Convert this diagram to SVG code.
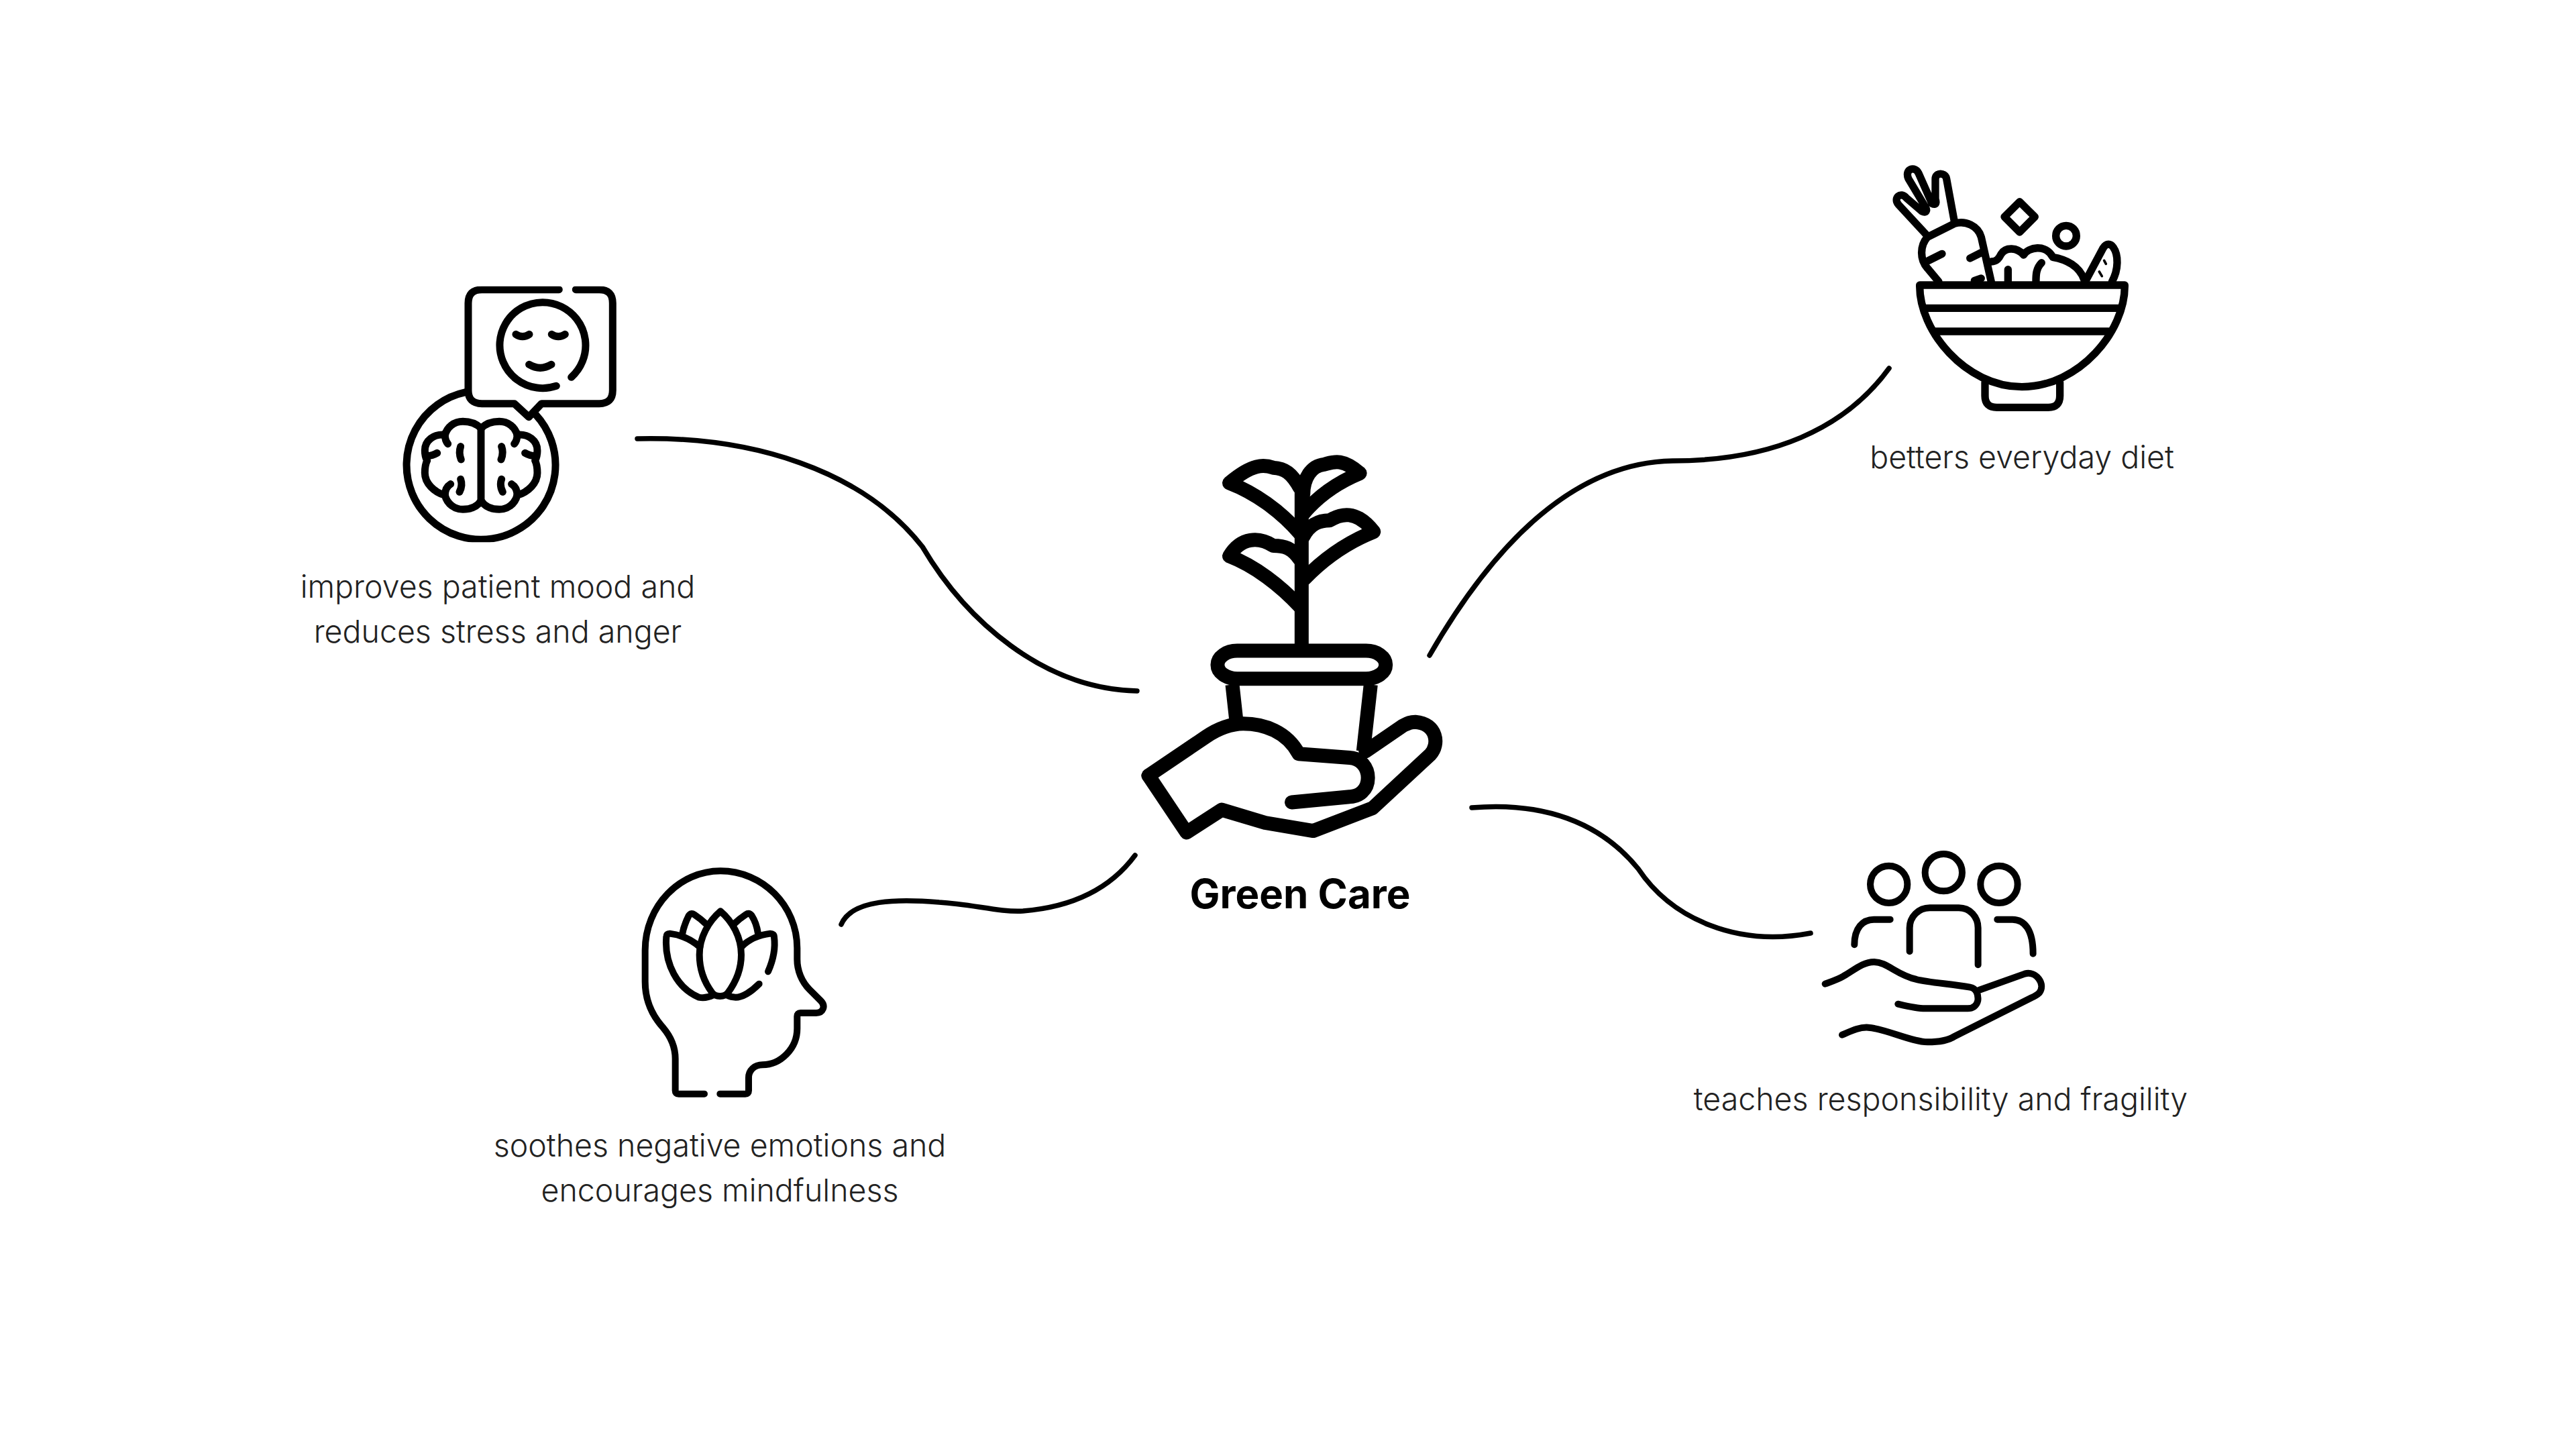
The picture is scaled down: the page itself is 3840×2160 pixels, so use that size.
<svg xmlns="http://www.w3.org/2000/svg" width="3840" height="2160" viewBox="0 0 3840 2160">
<style>
.i{fill:none;stroke:#000;stroke-linecap:round;stroke-linejoin:round}
.c{fill:none;stroke:#000;stroke-width:7.5;stroke-linecap:round}
.l{font-family:"Inter","Liberation Sans",sans-serif;font-weight:300;font-size:46.5px;fill:#222;text-anchor:middle}
.t{font-family:"Inter","Liberation Sans",sans-serif;font-weight:700;font-size:60px;fill:#000;text-anchor:middle}
.n{vector-effect:non-scaling-stroke}
</style>
<defs>
<clipPath id="bc"><rect x="0" y="80" width="1200" height="1145"/></clipPath>
<g id="half">
<path d="M441 715C415 690 385 685 360 685C320 685 290 710 280 745C230 740 190 770 190 815C190 835 195 850 200 860C190 880 190 900 190 915C190 960 230 1000 280 1015C290 1055 325 1078 360 1078C395 1078 425 1065 441 1040"/>
<path d="M280 745Q280 770 293 785M197 840Q225 838 245 826M350 797Q340 825 352 855M350 943Q360 970 345 1000M280 1015Q280 980 305 965"/>
</g>
</defs>
<rect width="3840" height="2160" fill="#fff"/>
<g id="connectors">
<path class="c" d="M950 654C1120 650 1285 700 1375 815C1440 925 1555 1027 1695 1030"/>
<path class="c" d="M2131 977C2210 840 2330 690 2493 687C2640 687 2750 640 2816 549"/>
<path class="c" d="M1254 1378C1270 1340 1340 1340 1400 1345C1450 1348 1490 1360 1525 1358C1600 1352 1655 1325 1692 1275"/>
<path class="c" d="M2194 1204C2300 1195 2385 1225 2442 1295C2492 1370 2590 1412 2699 1391"/>
</g>
<g id="node-center">
<g class="i" transform="translate(1650 640) scale(.3444 .4847)" stroke-width="21">
<path class="n" d="M850 200C850 150 885 112 940 108C975 102 1015 85 1095 135C1010 160 920 200 850 260"/>
<path class="n" d="M835 180C800 135 770 120 720 118C680 108 630 105 530 165C640 195 750 250 835 320"/>
<path class="n" d="M850 330C880 290 920 280 965 280C1010 260 1080 245 1155 315C1050 345 950 390 855 460"/>
<path class="n" d="M835 400C800 365 770 358 720 358C660 330 580 330 530 390C640 420 750 480 835 545"/>
<path class="n" d="M843 150V670" style="stroke-linecap:butt"/>
<rect class="n" x="479" y="681" width="728" height="86" rx="85" ry="43"/>
<path class="n" d="M543 785L560 895M1142 785L1110 990" style="stroke-linecap:butt"/>
<path class="n" d="M180 1065L430 945C480 920 540 905 590 905C680 905 780 930 830 998L1050 1010C1100 1012 1130 1040 1130 1072C1130 1110 1090 1130 1050 1130L800 1147"/>
<path class="n" d="M180 1065L345 1240L497 1170L685 1210L893 1235L1150 1165L1400 1000C1440 970 1430 905 1335 900C1310 900 1300 905 1280 912L1120 990"/>
</g>
<text class="t" x="1938" y="1354">Green Care</text>
</g>
<g id="node-mood">
<g class="i" transform="translate(570 400) scale(.3333)" stroke-width="33">
<g clip-path="url(#bc)">
<path d="M372 554A333 333 0 1 0 685 653"/>
<path d="M790 95H445Q384 95 384 156V545Q384 605 445 605H590L655 665L712 605H970Q1030 605 1030 545V156Q1030 95 970 95H865"/>
</g>
<path d="M778 526A192 192 0 1 1 845 487"/>
<path d="M597 295Q627 315 657 295M757 295Q787 315 817 295M656 430Q706 460 756 430"/>
<use href="#half"/>
<use href="#half" transform="translate(883 0) scale(-1 1)"/>
<path d="M441 715V1040"/>
</g>
<text class="l" x="742" y="891">improves patient mood and</text>
<text class="l" x="742" y="958">reduces stress and anger</text>
</g>
<g id="node-mindful">
<g class="i" transform="translate(930 1270) scale(.3333)" stroke-width="30">
<path d="M360 1082H245Q230 1082 230 1067V925C230 870 205 820 175 785C125 730 95 660 95 580V440C95 240 250 85 432 85C620 85 775 240 775 430V480C775 530 795 580 830 615L880 665C905 690 890 720 860 720H790Q775 720 775 735V790C775 880 700 952 620 952C585 952 558 975 558 1010V1067Q558 1082 543 1082H430"/>
<path d="M432 265C380 310 338 380 338 460C338 530 365 590 395 630C410 650 450 650 465 630C495 590 525 530 525 460C525 380 485 310 432 265Z"/>
<path d="M340 425C300 390 250 370 205 365Q190 365 190 380C180 500 240 610 335 650C360 655 380 650 400 640"/>
<path d="M525 425C560 390 610 370 655 365Q672 365 672 380C680 440 665 490 645 535M605 590C570 625 530 650 500 650C485 650 470 645 460 640"/>
<path d="M262 365C268 330 280 305 290 285Q300 270 315 280C330 290 345 300 365 320M600 365C595 330 585 305 572 285Q560 270 545 280C530 290 515 300 495 320"/>
</g>
<text class="l" x="1073" y="1724">soothes negative emotions and</text>
<text class="l" x="1073" y="1791">encourages mindfulness</text>
</g>
<g id="node-diet">
<g class="i" transform="translate(2790 220) scale(.3333)" stroke-width="34">
<path d="M215 615H1132C1135 820 930 1070 672 1070C420 1070 212 820 215 615Z"/>
<path d="M235 718H1110M285 822H1060"/>
<path d="M507 1050V1110Q507 1162 560 1162H790Q842 1162 842 1110V1050"/>
<path d="M300 600L250 540C215 500 215 440 250 400L370 340C420 325 475 350 490 400L535 600"/>
<path d="M255 505L315 475M440 495L490 470M460 595L490 585"/>
<path d="M245 390L120 255C95 225 130 195 155 225L225 285C245 295 250 280 240 265L165 140C145 95 195 80 210 115L270 250C290 260 290 245 285 230L285 140C285 110 330 110 335 140L370 330"/>
<path d="M535 510C560 510 570 495 580 475C600 445 650 445 680 480C700 445 780 430 810 490C870 500 930 530 950 590"/>
<path d="M610 545V600M760 515C735 540 735 570 735 600"/>
<path d="M662 242L730 310L662 378L594 310Z"/>
<circle cx="870" cy="395" r="46"/>
<path d="M955 600L1035 450C1050 425 1070 430 1080 445C1105 480 1105 545 1075 600"/>
<path d="M1040 505L1048 520M1018 555L1030 575" stroke-width="11"/>
</g>
<text class="l" x="3014" y="698">betters everyday diet</text>
</g>
<g id="node-responsibility">
<g class="i" transform="translate(2690 1240) scale(.3333)" stroke-width="30">
<circle cx="377" cy="235" r="83"/>
<circle cx="622" cy="182" r="83"/>
<circle cx="870" cy="235" r="83"/>
<path d="M383 392H310C260 392 223 430 223 505M470 535V430C470 380 510 340 560 340H690C740 340 776 380 776 430V595M862 392H930C985 392 1022 440 1022 545"/>
<path d="M92 680C120 670 150 660 175 645C220 620 260 582 310 582C370 582 410 640 500 660C560 675 660 680 740 695C770 700 778 730 775 755C770 780 750 790 730 790H540C500 790 460 780 418 770"/>
<path d="M780 708L985 635C1035 620 1080 680 1050 720C1040 730 1030 735 1015 742L670 915C640 935 590 940 550 940C480 940 360 880 285 875C240 872 200 895 168 908"/>
</g>
<text class="l" x="2893" y="1655">teaches responsibility and fragility</text>
</g>
</svg>
